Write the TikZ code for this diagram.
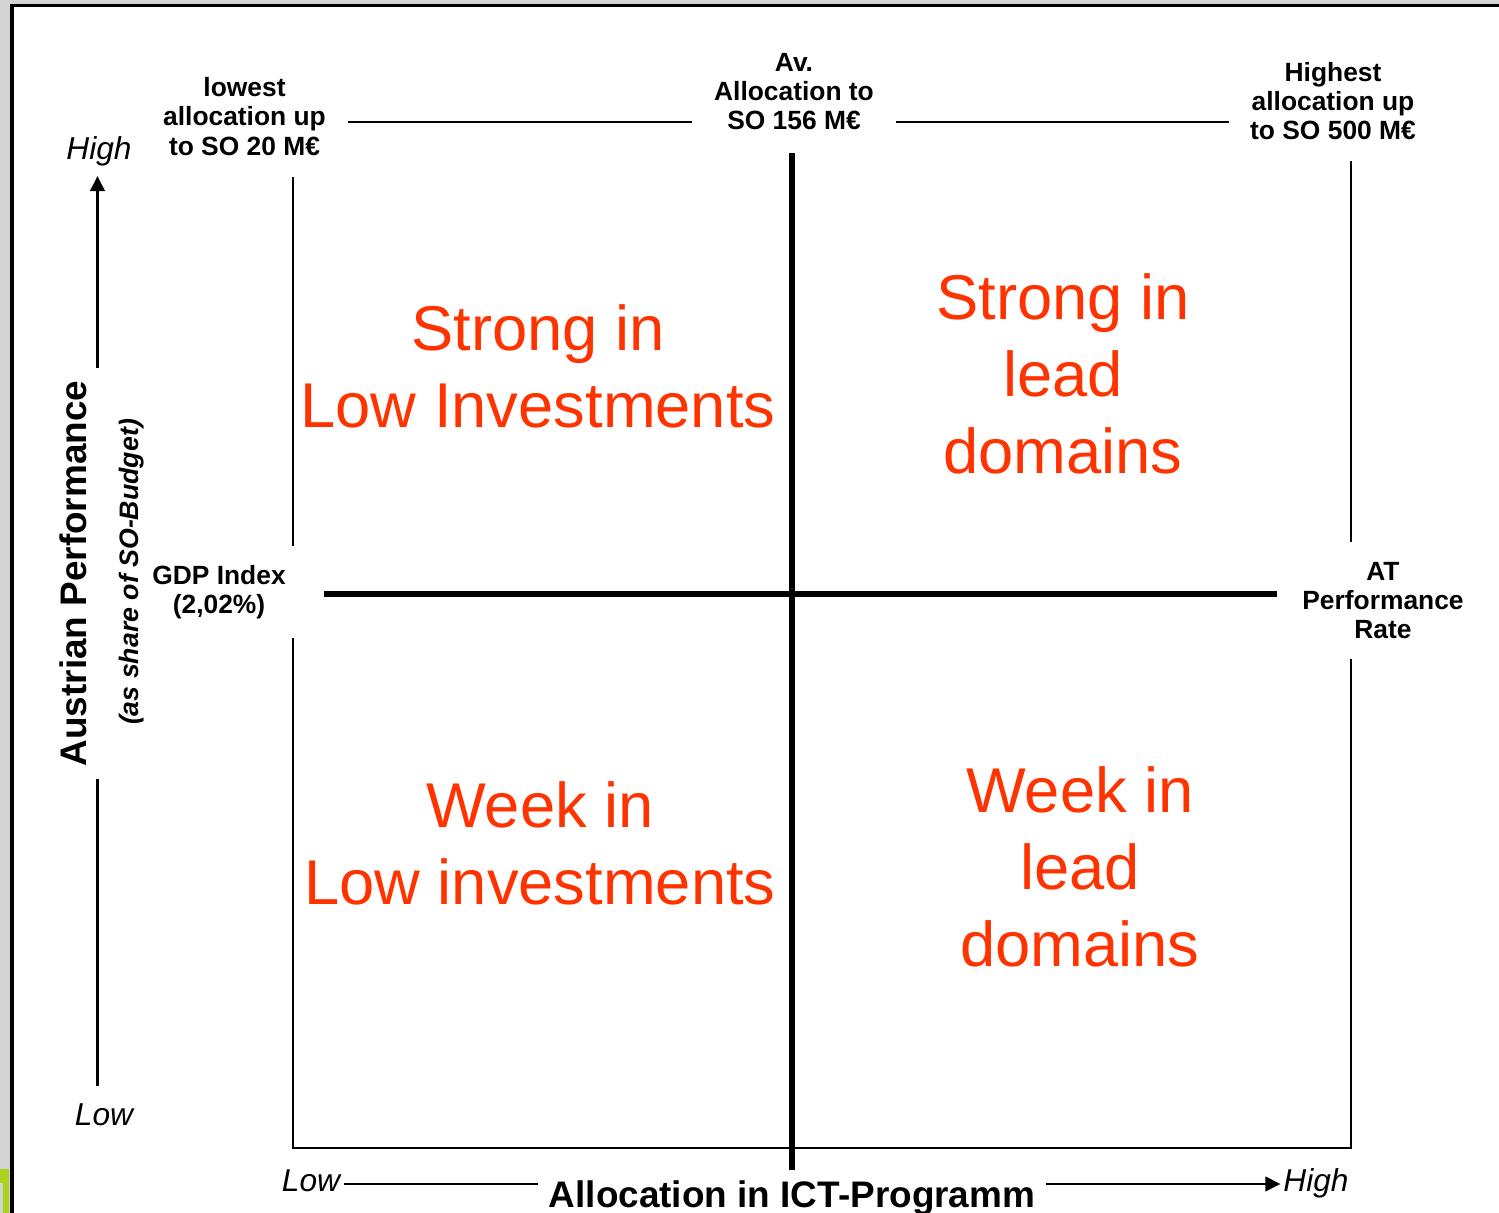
\documentclass[tikz,border=0pt]{standalone}
\usepackage{fontspec}
\setmainfont{Liberation Sans}
\usetikzlibrary{arrows.meta}
\definecolor{quadred}{HTML}{FF3300}
\definecolor{slidegray}{HTML}{D4D4D4}
\definecolor{slidegreen}{HTML}{AAD21E}

\begin{document}
\begin{tikzpicture}[x=0.01cm,y=-0.01cm,line width=0.6pt,
    bound/.style={fill=white,align=center,font=\fontsize{7.5}{8.3}\selectfont\bfseries},
    quad/.style={text=quadred,align=center,font=\fontsize{18}{21.9}\selectfont},
    ends/.style={font=\fontsize{9}{10}\selectfont\itshape,anchor=base},
    axtitle/.style={font=\fontsize{10.5}{12}\selectfont\bfseries,anchor=base,inner sep=1mm},
    cross/.style={line width=1.6pt},
    axarrow/.style={-{Triangle[length=4.3pt,width=4.2pt]}}]
        \useasboundingbox (0,0) rectangle (1499,1213);
        \clip (0,0) rectangle (1499,1213);
        \fill[slidegray] (0,0) rectangle (1499,1213);
        \fill[slidegreen] (0,1169) rectangle (9,1183) (3,1169) rectangle (9,1213);
        \draw[line width=1pt,fill=white] (12,5.5) rectangle (1530,1240);
        \draw (293,122) rectangle (1351,1148);
        \node[bound,inner sep=2.2mm] (lowest) at (244.5,116.5) {lowest\\allocation up\\to SO 20 M€};
        \node[bound,inner sep=2.2mm] (avg) at (794,91.5) {Av.\\Allocation to\\SO 156 M€};
        \node[bound,inner sep=2.1mm] (highest) at (1333,101) {Highest\\allocation up\\to SO 500 M€};
        \node[bound,inner sep=1.9mm] (gdp) at (219,592) {GDP Index\\(2,02\%)};
        \node[bound,inner sep=2mm] (atrate) at (1383,600.5) {AT\\Performance\\Rate};
        \node[quad] (stronglow) at (538,366) {Strong in\\Low Investments};
        \node[quad] (stronglead) at (1063,374) {Strong in\\lead\\domains};
        \node[quad] (weeklow) at (540,843.5) {Week in\\Low investments};
        \node[quad] (weeklead) at (1080,867) {Week in\\lead\\domains};
        \node[axtitle] (alloc) at (792,1208) {Allocation in ICT-Programm};
        \node[axtitle,rotate=90,inner sep=1.2mm] (perf) at (87,573.5) {Austrian Performance};
        \node[rotate=90,anchor=base,font=\fontsize{7.6}{9}\selectfont\bfseries\itshape] (share) at (138,572) {(as share of SO-Budget)};
        \node[ends,inner sep=0.85mm] (highL) at (99,160) {High};
        \node[ends,inner sep=1.7mm] (lowL) at (104,1126) {Low};
        \node[ends,inner sep=0.3mm] (lowB) at (311,1192) {Low};
        \node[ends,inner sep=0.2mm] (highB) at (1316,1192) {High};
        \coordinate (o) at (792,594);
        \coordinate (vax) at (97.5,0);
        \coordinate (hax) at (0,1184);
        \draw[cross] (o |- avg.south) -- (o |- alloc.north);
        \draw[cross,shorten <=1.8mm,shorten >=0.4mm] (o -| gdp.east) -- (o -| atrate.west);
        \draw (vax |- lowL.north) -- (vax |- perf.west);
        \draw[axarrow] (vax |- perf.east) -- (vax |- highL.south);
        \draw (lowB.east |- hax) -- (alloc.west |- hax);
        \draw[axarrow] (alloc.east |- hax) -- (highB.west |- hax);
\end{tikzpicture}
\end{document}
